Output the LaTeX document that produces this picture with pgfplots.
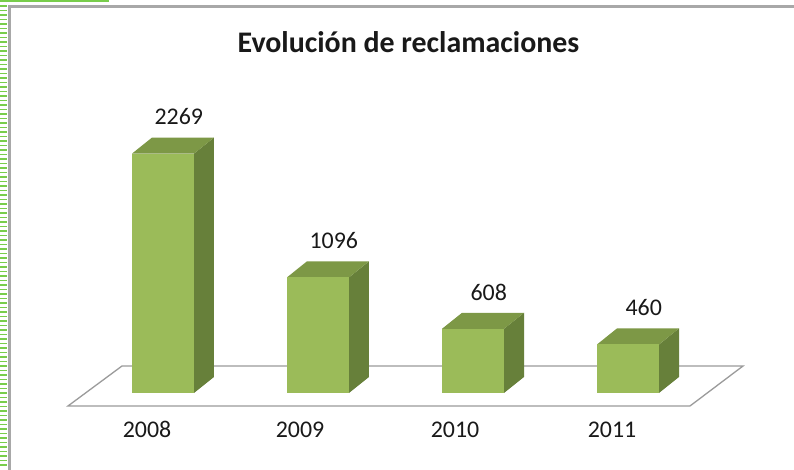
\documentclass[border=0pt]{standalone}
\usepackage{pgfplots}
\pgfplotsset{compat=1.18}
\usepackage{pgfplotstable}
\usepackage{fontspec}
\setmainfont{Carlito}
\definecolor{barfront}{RGB}{155,187,89}
\definecolor{bartop}{RGB}{125,152,70}
\definecolor{barside}{RGB}{103,128,58}
\definecolor{floorgray}{RGB}{155,155,155}
\definecolor{framegray}{RGB}{168,168,168}
\definecolor{dashgreen}{RGB}{120,205,75}

\pgfplotstableread{
idx value label
0 2269 2269
1 1096 1096
2 608 608
3 460 460
}\datatable

% 3D bar: #1 category index, #2 value
\newcommand\cubebar[2]{%
  \pgfmathsetmacro\xl{#1-0.2}%
  \pgfmathsetmacro\xr{#1+0.2}%
  \pgfmathsetmacro\xlb{#1-0.2+0.129}%
  \pgfmathsetmacro\xrb{#1+0.2+0.129}%
  \pgfmathsetmacro\vt{#2+152}%
  \edef\doit{%
    \noexpand\addplot[fill=barside,draw=none] coordinates {(\xr,0) (\xrb,152) (\xrb,\vt) (\xr,#2)} -- cycle;
    \noexpand\addplot[fill=bartop,draw=none] coordinates {(\xl,#2) (\xr,#2) (\xrb,\vt) (\xlb,\vt)} -- cycle;
    \noexpand\addplot[fill=barfront,draw=none] coordinates {(\xl,0) (\xr,0) (\xr,#2) (\xl,#2)} -- cycle;
  }\doit
}

\begin{document}
\begin{tikzpicture}[x=1bp,y=1bp]
\useasboundingbox (0,0) rectangle (794,470);
\fill[white] (0,0) rectangle (794,470);
% decorations of the sheet
\foreach \k in {0,...,102} {\fill[dashgreen] (0,{464.5-4.5*\k}) rectangle (7,{463.0-4.5*\k});}
\fill[dashgreen] (0,468.3) rectangle (109,470);
\draw[framegray, line width=3bp] (9.8,0) -- (9.8,463.5) -- (794,463.5);

\begin{axis}[
  at={(0,0)}, anchor=south west,
  scale only axis, width=794bp, height=470bp,
  xmin=-1.0516, xmax=4.0710, ymin=-729.9, ymax=3725.1,
  axis line style={draw=none},
  ytick=\empty,
  xtick={-0.103,0.884,1.884,2.897},
  xticklabels={2008,2009,2010,2011},
  major tick length=0pt,
  xticklabel style={anchor=base, yshift=32bp, font=\fontsize{24}{28}\selectfont, text=black!90},
  clip=false,
]
% floor
\addplot[fill=white, draw=floorgray, line width=1.3bp] coordinates {(-0.613,-123.2) (3.400,-123.2) (3.742,255.9) (-0.2645,255.9)} -- cycle;
% bars
\cubebar{0}{2269}
\cubebar{1}{1096}
\cubebar{2}{608}
\cubebar{3}{460}
% value labels
\addplot[draw=none, nodes near coords, point meta=explicit symbolic,
  nodes near coords style={anchor=base, xshift=15.75bp, yshift=28.75bp, font=\fontsize{24}{28}\selectfont, text=black!90}]
  table[x=idx, y=value, meta=label] {\datatable};
\end{axis}

\node[anchor=base, font=\bfseries\fontsize{30}{36}\selectfont, text=black!90] at (408.5,417) {Evolución de reclamaciones};
\end{tikzpicture}
\end{document}
